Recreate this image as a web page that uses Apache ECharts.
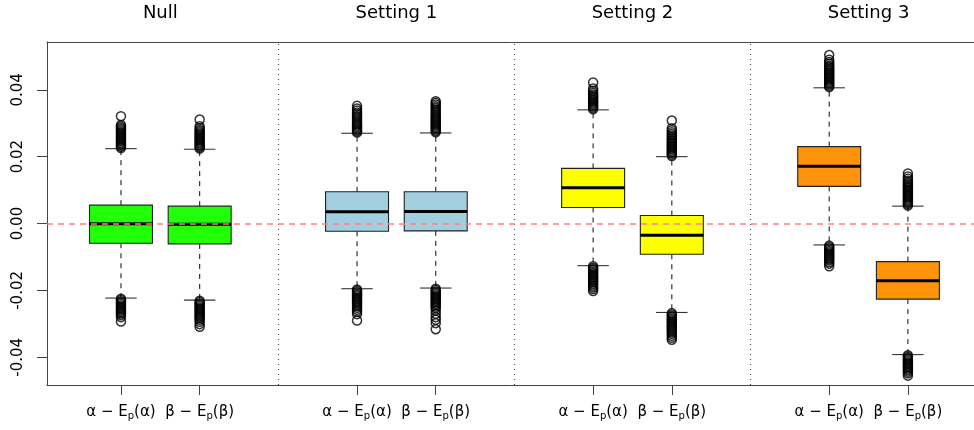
<!DOCTYPE html>
<html><head><meta charset="utf-8">
<script src="https://cdn.jsdelivr.net/npm/echarts@6/dist/echarts.min.js"></script>
<style>html,body{margin:0;padding:0;background:#fff}#c{width:974px;height:430px}</style>
</head><body><div id="c"></div>
<script>
// ---- data ----
const positions = [1, 2, 4, 5, 7, 8, 10, 11];
const boxKinds = ['a', 'b', 'a', 'b', 'a', 'b', 'a', 'b'];
const lows    = [-0.0223, -0.0229, -0.0195, -0.0193, -0.0126, -0.0266, -0.0064, -0.0392];
const q1s     = [-0.0059, -0.0061, -0.0023, -0.0022,  0.0048, -0.0092,  0.0111, -0.0226];
const medians = [-0.0001, -0.0002,  0.0035,  0.0036,  0.0107, -0.0035,  0.0171, -0.0171];
const q3s     = [ 0.0055,  0.0052,  0.0095,  0.0095,  0.0165,  0.0024,  0.0230, -0.0114];
const highs   = [ 0.0224,  0.0222,  0.0270,  0.0271,  0.0340,  0.0200,  0.0406,  0.0052];
const boxColors = ['#22FF08', '#22FF08', '#A1CFE0', '#A1CFE0', '#FFFF00', '#FFFF00', '#FF940A', '#FF940A'];
const groupTitles = ['Null', 'Setting 1', 'Setting 2', 'Setting 3'];
const groupCenters = [1.5, 4.5, 7.5, 10.5];
const separators = [3, 6, 9];
const yTicks = [-0.04, -0.02, 0, 0.02, 0.04];

const outNullA = [0.0226,0.0230,0.0234,0.0238,0.0242,0.0246,0.0250,0.0254,0.0258,0.0262,0.0266,0.0270,0.0274,0.0278,0.0282,0.0286,0.0290,0.0295,0.0321,
  -0.0225,-0.0229,-0.0233,-0.0237,-0.0241,-0.0245,-0.0249,-0.0253,-0.0257,-0.0261,-0.0265,-0.0269,-0.0274,-0.0280,-0.0293];
const outNullB = [0.0224,0.0228,0.0232,0.0236,0.0240,0.0244,0.0248,0.0252,0.0256,0.0260,0.0264,0.0268,0.0272,0.0276,0.0280,0.0285,0.0291,0.0311,
  -0.0231,-0.0235,-0.0239,-0.0243,-0.0247,-0.0251,-0.0255,-0.0259,-0.0263,-0.0267,-0.0271,-0.0275,-0.0279,-0.0283,-0.0288,-0.0294,-0.0301,-0.0309];
const outS1A = [0.0272,0.0276,0.0280,0.0284,0.0288,0.0292,0.0296,0.0300,0.0305,0.0311,0.0317,0.0322,0.0327,0.0332,0.0338,0.0344,0.0352,
  -0.0197,-0.0201,-0.0205,-0.0209,-0.0213,-0.0217,-0.0221,-0.0225,-0.0229,-0.0233,-0.0237,-0.0242,-0.0247,-0.0252,-0.0258,-0.0264,-0.0271,-0.0290];
const outS1B = [0.0273,0.0277,0.0281,0.0285,0.0289,0.0293,0.0297,0.0301,0.0305,0.0309,0.0313,0.0317,0.0321,0.0326,0.0331,0.0336,0.0341,0.0346,0.0351,0.0356,0.0361,0.0366,
  -0.0195,-0.0199,-0.0203,-0.0207,-0.0211,-0.0215,-0.0219,-0.0223,-0.0227,-0.0231,-0.0235,-0.0239,-0.0243,-0.0248,-0.0253,-0.0260,-0.0270,-0.0280,-0.0288,-0.0298,-0.0316];
const outS2A = [0.0342,0.0346,0.0350,0.0354,0.0358,0.0362,0.0366,0.0370,0.0374,0.0378,0.0382,0.0386,0.0391,0.0397,0.0404,0.0422,
  -0.0128,-0.0132,-0.0136,-0.0140,-0.0144,-0.0148,-0.0152,-0.0156,-0.0160,-0.0164,-0.0168,-0.0172,-0.0176,-0.0181,-0.0186,-0.0191,-0.0196,-0.0202];
const outS2B = [0.0202,0.0206,0.0210,0.0214,0.0218,0.0222,0.0226,0.0230,0.0234,0.0238,0.0242,0.0246,0.0250,0.0254,0.0258,0.0263,0.0268,0.0273,0.0279,0.0285,0.0308,
  -0.0268,-0.0272,-0.0276,-0.0280,-0.0284,-0.0288,-0.0292,-0.0296,-0.0300,-0.0304,-0.0308,-0.0312,-0.0316,-0.0320,-0.0325,-0.0330,-0.0336,-0.0342,-0.0348];
const outS3A = [0.0408,0.0412,0.0416,0.0420,0.0424,0.0428,0.0432,0.0436,0.0440,0.0444,0.0448,0.0452,0.0456,0.0460,0.0464,0.0468,0.0472,0.0477,0.0483,0.0490,0.0504,
  -0.0066,-0.0070,-0.0074,-0.0078,-0.0082,-0.0086,-0.0090,-0.0094,-0.0098,-0.0102,-0.0106,-0.0110,-0.0115,-0.0120,-0.0128];
const outS3B = [0.0054,0.0058,0.0062,0.0066,0.0070,0.0074,0.0078,0.0082,0.0086,0.0090,0.0094,0.0098,0.0102,0.0106,0.0110,0.0114,0.0118,0.0123,0.0128,0.0134,0.0141,0.0150,
  -0.0394,-0.0398,-0.0402,-0.0406,-0.0410,-0.0414,-0.0418,-0.0422,-0.0426,-0.0430,-0.0434,-0.0438,-0.0443,-0.0448,-0.0455];
const outlierSets = [outNullA, outNullB, outS1A, outS1B, outS2A, outS2B, outS3A, outS3B];

// ---- build ----
const FONT = 'DejaVu Sans';
const boxData = positions.map((p, i) => [p, lows[i], q1s[i], medians[i], q3s[i], highs[i]]);
const outData = [];
outlierSets.forEach((arr, i) => arr.forEach(v => outData.push([positions[i], v])));

const chart = echarts.init(document.getElementById('c'), null, {renderer: 'canvas'});
chart.setOption({
  animation: false,
  backgroundColor: '#fff',
  grid: {left: 47, top: 42, right: 0, height: 343, show: false},
  xAxis: [{
    type: 'value', min: 0.06, max: 11.84, position: 'bottom',
    axisLine: {show: true, onZero: false, lineStyle: {color: '#444', width: 1}},
    axisTick: {show: true, length: 10, customValues: positions, lineStyle: {color: '#444'}},
    splitLine: {show: false},
    axisLabel: {
      customValues: positions, margin: 18, color: '#000', fontFamily: FONT,
      formatter: function (v) {
        const k = boxKinds[positions.indexOf(v)];
        const g = k === 'a' ? 'α' : 'β';
        return '{t|' + g + ' − E}{s|p}{t|(' + g + ')}';
      },
      rich: {
        t: {fontSize: 15, fontFamily: FONT, color: '#000'},
        s: {fontSize: 10, fontFamily: FONT, color: '#000', padding: [8, 0, 0, 0]}
      }
    }
  }, {
    type: 'value', min: 0.06, max: 11.84, position: 'top',
    axisLine: {show: true, onZero: false, lineStyle: {color: '#444', width: 1}},
    axisTick: {show: false}, splitLine: {show: false},
    axisLabel: {
      customValues: groupCenters, margin: 20, color: '#000', fontSize: 18, fontFamily: FONT,
      formatter: v => groupTitles[groupCenters.indexOf(v)]
    }
  }],
  yAxis: {
    type: 'value', min: -0.0483, max: 0.0543,
    axisLine: {show: true, onZero: false, lineStyle: {color: '#444'}},
    axisTick: {show: true, length: 10, customValues: yTicks, lineStyle: {color: '#444'}},
    splitLine: {show: false},
    axisLabel: {customValues: yTicks, rotate: 90, margin: 21, color: '#000', fontSize: 15, fontFamily: FONT,
      formatter: v => v.toFixed(2)}
  },
  series: [{
    type: 'line', data: [], z: 1, silent: true,
    markLine: {silent: true, symbol: 'none', label: {show: false},
      lineStyle: {color: '#555', type: [1, 4], width: 1.2},
      data: separators.map(s => ({xAxis: s}))}
  }, {
    type: 'custom', z: 3, silent: true,
    encode: {x: 0, y: [1, 2, 3, 4, 5]},
    data: boxData,
    renderItem: function (params, api) {
      const x = api.value(0);
      const pLow = api.coord([x, api.value(1)]);
      const pQ1 = api.coord([x, api.value(2)]);
      const pMed = api.coord([x, api.value(3)]);
      const pQ3 = api.coord([x, api.value(4)]);
      const pHigh = api.coord([x, api.value(5)]);
      const w = api.size([0.8, 0])[0];
      const cw = w / 2;
      const cx = pMed[0];
      const wl = {stroke: '#222', lineWidth: 1.1, lineDash: [5, 5]};
      const cl = {stroke: '#333', lineWidth: 1.1};
      return {type: 'group', children: [
        {type: 'line', shape: {x1: cx, y1: pQ3[1], x2: cx, y2: pHigh[1]}, style: wl},
        {type: 'line', shape: {x1: cx, y1: pQ1[1], x2: cx, y2: pLow[1]}, style: wl},
        {type: 'line', shape: {x1: cx - cw / 2, y1: pHigh[1], x2: cx + cw / 2, y2: pHigh[1]}, style: cl},
        {type: 'line', shape: {x1: cx - cw / 2, y1: pLow[1], x2: cx + cw / 2, y2: pLow[1]}, style: cl},
        {type: 'rect', shape: {x: cx - w / 2, y: pQ3[1], width: w, height: pQ1[1] - pQ3[1]},
          style: {fill: boxColors[params.dataIndex], stroke: '#222', lineWidth: 1.1}},
        {type: 'line', shape: {x1: cx - w / 2, y1: pMed[1], x2: cx + w / 2, y2: pMed[1]}, style: {stroke: '#000', lineWidth: 3}}
      ]};
    }
  }, {
    type: 'scatter', z: 4, silent: true, data: outData,
    symbol: 'circle', symbolSize: 9,
    itemStyle: {color: 'rgba(0,0,0,0)', borderColor: '#000', borderWidth: 1.5}
  }, {
    type: 'line', data: [], z: 6, silent: true,
    markLine: {silent: true, symbol: 'none', label: {show: false},
      lineStyle: {color: '#FF8080', type: [6, 5], width: 1.5},
      data: [{yAxis: 0}]}
  }]
});
</script>
</body></html>
